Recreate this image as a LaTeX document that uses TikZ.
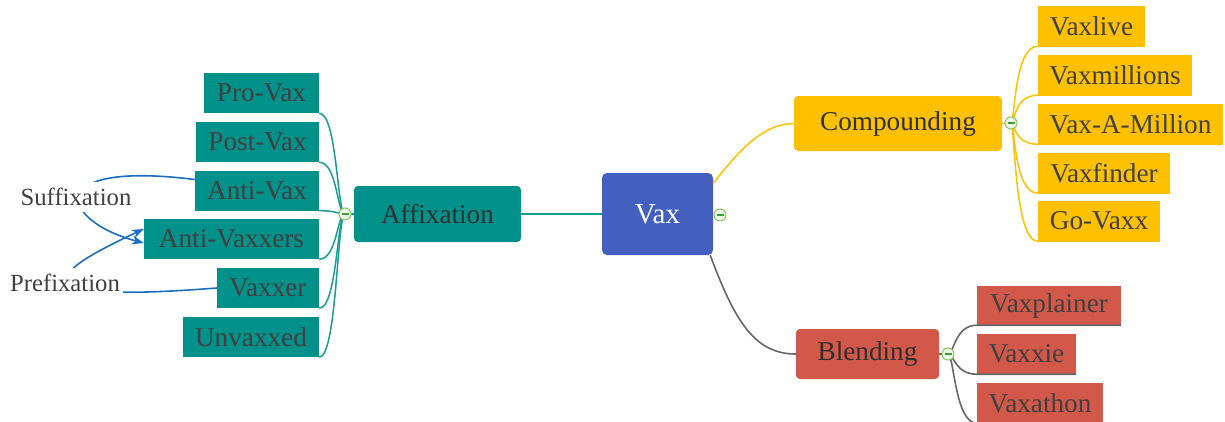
\documentclass[tikz,border=0pt]{standalone}
\usepackage{fontspec}
\setmainfont{Liberation Serif}
\usetikzlibrary{arrows.meta}
\definecolor{mteal}{HTML}{00918A}
\definecolor{mtealline}{HTML}{1A9C92}
\definecolor{myel}{HTML}{FFC000}
\definecolor{mred}{HTML}{D2584A}
\definecolor{mblue}{HTML}{4360BE}
\definecolor{mgray}{HTML}{666666}
\definecolor{txt}{HTML}{404040}
\definecolor{txtd}{HTML}{303030}
\definecolor{cgreen}{HTML}{86C460}
\definecolor{cfill}{HTML}{EEF8E6}
\definecolor{cminus}{HTML}{3E9E3E}
\definecolor{annblue}{HTML}{1B6EC2}
\begin{document}
\begin{tikzpicture}[x=1pt,y=-1pt,
  leafbox/.style={rectangle, inner sep=0pt, minimum height=40pt, text=txt, font=\fontsize{27.2}{30}\selectfont},
  tleaf/.style={leafbox, fill=mteal},
  yleaf/.style={leafbox, fill=myel},
  rleaf/.style={leafbox, fill=mred},
  mainbox/.style={rectangle, rounded corners=4pt, inner sep=0pt, text=txtd, font=\fontsize{27.2}{30}\selectfont},
  collapse/.style={circle, minimum size=12pt, inner sep=0pt, draw=cgreen, fill=cfill, line width=1pt,
    path picture={\draw[cminus, line width=1.3pt] ([xshift=-3.5pt]path picture bounding box.center) -- ([xshift=3.5pt]path picture bounding box.center);}},
  tline/.style={draw=mtealline, line width=1.5pt},
  yline/.style={draw=myel, line width=1.5pt},
  gline/.style={draw=mgray, line width=1.6pt},
  note/.style={fill=white, inner xsep=3pt, inner ysep=6pt, text=txt, font=\fontsize{24.7}{28}\selectfont},
  ann/.style={draw=annblue, line width=1.6pt, -{Stealth[length=12pt,width=9pt]}}
]
\useasboundingbox (0,0) rectangle (1225,421);

% collapse points
\coordinate (c1) at (345,214);
\coordinate (c2) at (720,215);
\coordinate (c3) at (1011,123);
\coordinate (c4) at (948,354);

% main nodes
\node[mainbox, fill=mteal, minimum width=167pt, minimum height=56pt] (affix) at (437.5,214) {Affixation};
\node[mainbox, fill=mblue, rounded corners=5pt, minimum width=111pt, minimum height=82pt, text=white, font=\fontsize{29}{32}\selectfont] (vax) at (657.5,214) {Vax};
\node[mainbox, fill=myel, minimum width=208pt, minimum height=55pt] (comp) at (898,123.5) {Compounding};
\node[mainbox, fill=mred, minimum width=143pt, minimum height=50pt] (blend) at (867.5,354) {Blending};

% teal leaves
\node[tleaf, minimum width=115pt] (provax) at (261.5,93) {Pro-Vax};
\node[tleaf, minimum width=123pt] (postvax) at (257.5,142) {Post-Vax};
\node[tleaf, minimum width=124pt] (antivax) at (257,190.5) {Anti-Vax};
\node[tleaf, minimum width=175pt] (antivaxxers) at (231.5,239) {Anti-Vaxxers};
\node[tleaf, minimum width=102pt] (vaxxer) at (268,288) {Vaxxer};
\node[tleaf, minimum width=136pt] (unvaxxed) at (251,337) {Unvaxxed};

% yellow leaves
\node[yleaf, minimum width=107pt] (vaxlive) at (1091.5,26) {Vaxlive};
\node[yleaf, minimum width=154pt] (vaxmillions) at (1115,75) {Vaxmillions};
\node[yleaf, minimum width=185pt] (vaxamillion) at (1130.5,124) {Vax-A-Million};
\node[yleaf, minimum width=132pt] (vaxfinder) at (1104,173) {Vaxfinder};
\node[yleaf, minimum width=122pt] (govaxx) at (1099,221) {Go-Vaxx};

% red leaves
\node[rleaf, minimum width=144pt, minimum height=39pt] (vaxplainer) at (1049,305.5) {Vaxplainer};
\node[rleaf, minimum width=99pt] (vaxxie) at (1026.5,354) {Vaxxie};
\node[rleaf, minimum width=126pt] (vaxathon) at (1040,403) {Vaxathon};

% connectors
\foreach \n in {provax,postvax,antivax,antivaxxers,vaxxer,unvaxxed}
  \draw[tline] (\n.south east) .. controls +(18,0) and +(-8,0) .. (c1);
\draw[tline] (c1) -- (affix.west);
\draw[tline, line width=1.8pt] (affix.east) -- (vax.west);
\draw[yline] (vax.29) .. controls (740,150) and (762,124) .. (comp.west);
\draw[gline] (vax.-38.5) .. controls (735,322) and (755,354) .. (blend.west);
\draw[yline] (comp.east) -- (c3);
\foreach \n in {vaxlive,vaxmillions,vaxamillion,vaxfinder,govaxx}
  \draw[yline] (c3) .. controls +(4,0) and +(-24,0) .. (\n.south west) -- (\n.south east);
\draw[gline] (blend.east) -- (c4);
\foreach \n in {vaxplainer,vaxxie,vaxathon}
  \draw[gline] (c4) .. controls +(6,0) and +(-22,0) .. (\n.south west) -- (\n.south east);

% collapse markers
\node[collapse] at (c1) {};
\node[collapse] at (c2) {};
\node[collapse] at (c3) {};
\node[collapse] at (c4) {};

% annotation arrows
\draw[ann] (antivax.170) .. controls (40,160) and (60,221) .. ([yshift=-4pt]antivaxxers.west);
\draw[ann] (vaxxer.west) .. controls (0,305) and (60,268) .. ([yshift=10pt]antivaxxers.west);
\node[note] (suf) at (76,197) {Suffixation};
\node[note] (pre) at (65,283) {Prefixation};
\end{tikzpicture}
\end{document}
